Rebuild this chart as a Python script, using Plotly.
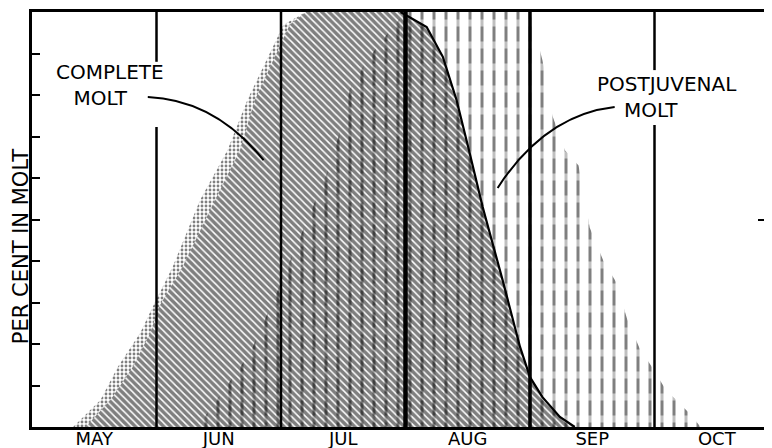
import plotly.graph_objects as go

# ---------------- data ----------------
months = ["MAY", "JUN", "JUL", "AUG", "SEP", "OCT"]
month_centers = [0.5, 1.5, 2.5, 3.5, 4.5, 5.5]      # months since 1 May
month_bounds = [1, 2, 3, 4, 5]
bound_widths = [2.5, 2.5, 4.5, 3.5, 2.5]
pct_ticks = [0, 10, 20, 30, 40, 50, 60, 70, 80, 90, 100]

# complete molt: rising edge (per cent levels shared by outer/inner edge)
rise_pct = [0, 6.5, 14.5, 22.7, 29, 38.6, 54.7, 66.7, 78.8, 96.9, 100]
outer_rise_x = [0.33, 0.55, 0.69, 0.87, 0.97, 1.13, 1.35, 1.57, 1.73, 2.02, 2.20]
inner_rise_x = [0.43, 0.63, 0.81, 0.95, 1.02, 1.21, 1.47, 1.67, 1.79, 2.07, 2.20]
# complete molt: falling edge
fall_x = [2.96, 3.17, 3.30, 3.41, 3.51, 3.62, 3.78, 3.92, 4.00, 4.10, 4.24, 4.36]
fall_pct = [100, 96.4, 89.2, 78.8, 66.7, 53, 35.4, 19.3, 12, 7.2, 2.4, 0]

# postjuvenal molt
postjuv_x = [1.33, 1.75, 1.94, 2.37, 2.47, 2.55, 2.69, 2.88, 3.00, 4.00, 4.10, 4.18,
             4.28, 4.39, 4.48, 4.59, 4.69, 4.78, 4.88, 4.99, 5.09, 5.19, 5.29, 5.37]
postjuv_pct = [0, 17.8, 30.6, 61.2, 70.8, 81.2, 88.4, 95.7, 100, 100, 88.4, 75,
               66.7, 63, 48, 40, 35, 26, 19, 14, 9, 6, 3, 0]

# gaps in boundary lines where the labels cross them (per cent range)
line_gaps = {1: (72.3, 88.0), 5: (72.8, 86.0)}

# ---------------- figure ----------------
CLEAR = "rgba(0,0,0,0)"
FONT = "DejaVu Sans"
NB = "\u00a0"
fig = go.Figure()

# postjuvenal molt: vertical lines ...
fig.add_trace(go.Scatter(
    x=postjuv_x, y=postjuv_pct, fill="toself", mode="lines",
    line=dict(width=0, color=CLEAR), fillcolor=CLEAR,
    fillpattern=dict(shape="|", size=12, solidity=0.25,
                     fgcolor="black", bgcolor=CLEAR),
    hoverinfo="skip", showlegend=False))
# ... broken into dashes
fig.add_trace(go.Scatter(
    x=postjuv_x, y=postjuv_pct, fill="toself", mode="lines",
    line=dict(width=0, color=CLEAR), fillcolor=CLEAR,
    fillpattern=dict(shape="-", size=22, solidity=0.32,
                     fgcolor="white", bgcolor=CLEAR),
    hoverinfo="skip", showlegend=False))

# complete molt: stippled fringe on the rising side
band_x = outer_rise_x + inner_rise_x[::-1]
band_y = rise_pct + rise_pct[::-1]
fig.add_trace(go.Scatter(
    x=band_x, y=band_y, fill="toself", mode="lines",
    line=dict(width=0, color=CLEAR), fillcolor=CLEAR,
    fillpattern=dict(shape=".", size=4, solidity=0.4,
                     fgcolor="black", bgcolor=CLEAR),
    hoverinfo="skip", showlegend=False))

# complete molt: hatched body
body_x = inner_rise_x + fall_x
body_y = rise_pct + fall_pct
fig.add_trace(go.Scatter(
    x=body_x, y=body_y, fill="toself", mode="lines",
    line=dict(width=0, color=CLEAR), fillcolor=CLEAR,
    fillpattern=dict(shape="\\", size=5, solidity=0.7,
                     fgcolor="black", bgcolor=CLEAR),
    hoverinfo="skip", showlegend=False))
# dark falling edge
fig.add_trace(go.Scatter(
    x=fall_x, y=fall_pct, mode="lines", line=dict(width=2.2, color="black"),
    hoverinfo="skip", showlegend=False))

# invisible trace to carry the right-hand tick axis
fig.add_trace(go.Scatter(x=[0], y=[0], yaxis="y2", mode="markers",
                         marker=dict(opacity=0), hoverinfo="skip", showlegend=False))

# month boundary lines (broken where a label crosses them)
for b, w in zip(month_bounds, bound_widths):
    segs = [(0, 100)]
    if b in line_gaps:
        g0, g1 = line_gaps[b]
        segs = [(0, g0), (g1, 100)]
    for y0, y1 in segs:
        fig.add_shape(type="line", xref="x", yref="y", x0=b, x1=b, y0=y0, y1=y1,
                      line=dict(color="black", width=w), layer="above")

# leader curves
fig.add_shape(type="path", xref="x", yref="y", layer="above",
              path="M 0.93,79.5 Q 1.47,78.8 1.86,64.3",
              line=dict(color="black", width=2))
fig.add_shape(type="path", xref="x", yref="y", layer="above",
              path="M 4.68,77.1 Q 4.12,75.2 3.74,57.6",
              line=dict(color="black", width=2))

# labels
def label(text, x, y):
    fig.add_annotation(x=x, y=y, xref="x", yref="y", text=text, showarrow=False,
                       font=dict(family=FONT, size=20, color="black"),
                       align="center", xanchor="center", yanchor="middle")

label("COMPLETE<br>MOLT" + NB * 3, 0.627, 82.3)
label("POSTJUVENAL<br>MOLT" + NB * 5, 5.10, 79.6)

fig.add_annotation(x=-0.0145, y=0.434, xref="paper", yref="paper",
                   text="PER CENT IN MOLT", textangle=-90, showarrow=False,
                   font=dict(family=FONT, size=21, color="black"),
                   xanchor="center", yanchor="middle")

# page body has an 8px margin: figure is sized/offset so the plot lands in place
fig.update_layout(
    width=764, height=440,
    margin=dict(l=24, r=1, t=4, b=21, autoexpand=False),
    paper_bgcolor="white", plot_bgcolor="white",
    showlegend=False,
    xaxis=dict(range=[0, 739 / 124.5], tickvals=month_centers, ticktext=months,
               ticks="", showgrid=False, zeroline=False, automargin=False,
               ticklabelstandoff=-6,
               showline=True, linecolor="black", linewidth=2.5, mirror=True,
               tickfont=dict(family=FONT, size=18, color="black")),
    yaxis=dict(range=[0, 100], tickvals=pct_ticks, showticklabels=False,
               ticks="inside", ticklen=8, tickwidth=2, tickcolor="black",
               showgrid=False, zeroline=False, automargin=False,
               showline=True, linecolor="black", linewidth=2.5),
    yaxis2=dict(range=[0, 100], overlaying="y", side="right", automargin=False,
                tickvals=[50], ticks="inside", ticklen=13, tickwidth=2,
                tickcolor="black", showticklabels=False,
                minor=dict(tickvals=[10, 20, 30, 40, 60, 70, 80, 90],
                           ticks="inside", ticklen=4, tickwidth=2, tickcolor="black"),
                showgrid=False, zeroline=False, showline=False),
)

fig.write_html("out.html")
